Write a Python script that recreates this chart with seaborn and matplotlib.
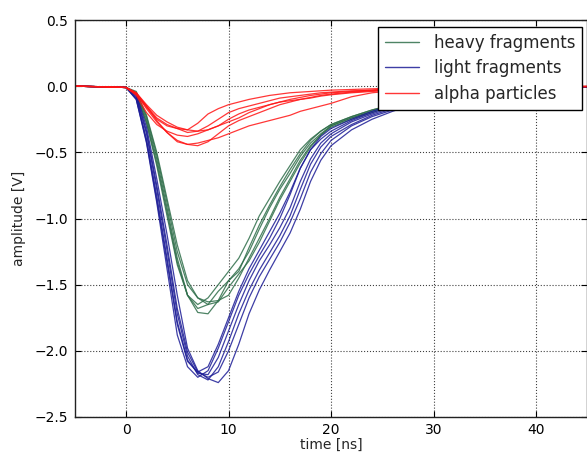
import numpy as np
import pandas as pd
import matplotlib
matplotlib.use("Agg")
import matplotlib.pyplot as plt
from matplotlib.lines import Line2D
import seaborn as sns

# ---- data ----
time_ns = [-5, -2, 0, 1, 2, 3, 4, 5, 6, 7, 8, 9, 10, 11, 12, 13, 14, 15, 16, 17,
           18, 19, 20, 22, 24, 26, 28, 30, 33, 36, 40, 45]

heavy_1 = [0.0, -0.005, -0.01, -0.06, -0.28, -0.60, -0.98, -1.35, -1.58, -1.65, -1.60, -1.50, -1.40, -1.30, -1.15, -0.98, -0.85, -0.72, -0.60, -0.48,
           -0.40, -0.34, -0.29, -0.23, -0.18, -0.14, -0.10, -0.07, -0.045, -0.03, -0.015, -0.005]
heavy_2 = [0.0, -0.005, -0.01, -0.05, -0.25, -0.55, -0.92, -1.30, -1.58, -1.71, -1.72, -1.62, -1.47, -1.38, -1.25, -1.08, -0.92, -0.78, -0.66, -0.53,
           -0.43, -0.36, -0.30, -0.24, -0.19, -0.15, -0.11, -0.08, -0.05, -0.03, -0.015, -0.005]
heavy_3 = [0.0, -0.005, -0.01, -0.05, -0.23, -0.52, -0.88, -1.25, -1.50, -1.60, -1.63, -1.62, -1.58, -1.45, -1.30, -1.15, -1.00, -0.84, -0.70, -0.56,
           -0.45, -0.37, -0.31, -0.25, -0.20, -0.15, -0.11, -0.08, -0.05, -0.03, -0.015, -0.005]
heavy_4 = [0.0, -0.005, -0.01, -0.06, -0.27, -0.58, -0.95, -1.33, -1.58, -1.68, -1.65, -1.55, -1.47, -1.40, -1.22, -1.05, -0.90, -0.76, -0.63, -0.51,
           -0.41, -0.34, -0.29, -0.23, -0.18, -0.14, -0.10, -0.07, -0.045, -0.03, -0.015, -0.005]
heavy_5 = [0.0, -0.005, -0.01, -0.04, -0.22, -0.50, -0.85, -1.20, -1.47, -1.60, -1.65, -1.63, -1.52, -1.42, -1.32, -1.18, -1.02, -0.86, -0.72, -0.58,
           -0.46, -0.37, -0.30, -0.24, -0.19, -0.14, -0.10, -0.07, -0.045, -0.03, -0.015, -0.005]

light_1 = [0.0, -0.005, -0.01, -0.10, -0.43, -0.88, -1.38, -1.88, -2.12, -2.20, -2.15, -1.98, -1.78, -1.58, -1.42, -1.28, -1.15, -1.00, -0.82, -0.62,
           -0.48, -0.40, -0.34, -0.26, -0.20, -0.15, -0.11, -0.08, -0.05, -0.03, -0.015, -0.005]
light_2 = [0.0, -0.005, -0.01, -0.09, -0.40, -0.83, -1.30, -1.78, -2.07, -2.17, -2.18, -2.05, -1.85, -1.65, -1.47, -1.32, -1.20, -1.07, -0.92, -0.72,
           -0.55, -0.43, -0.36, -0.27, -0.21, -0.16, -0.12, -0.08, -0.05, -0.03, -0.015, -0.005]
light_3 = [0.0, -0.005, -0.01, -0.08, -0.36, -0.78, -1.24, -1.72, -2.04, -2.18, -2.22, -2.12, -1.93, -1.72, -1.54, -1.39, -1.26, -1.13, -0.98, -0.78,
           -0.59, -0.46, -0.38, -0.29, -0.22, -0.17, -0.12, -0.09, -0.05, -0.03, -0.015, -0.005]
light_4 = [0.0, -0.005, -0.01, -0.07, -0.34, -0.75, -1.20, -1.68, -2.01, -2.16, -2.20, -2.16, -2.00, -1.80, -1.60, -1.44, -1.31, -1.18, -1.03, -0.85,
           -0.65, -0.51, -0.41, -0.30, -0.23, -0.18, -0.13, -0.09, -0.06, -0.035, -0.02, -0.005]
light_5 = [0.0, -0.005, -0.01, -0.06, -0.31, -0.70, -1.12, -1.58, -1.98, -2.15, -2.21, -2.24, -2.15, -1.95, -1.72, -1.54, -1.39, -1.25, -1.11, -0.93,
           -0.72, -0.56, -0.45, -0.33, -0.25, -0.19, -0.14, -0.10, -0.06, -0.035, -0.02, -0.005]
light_6 = [0.0, -0.005, -0.01, -0.10, -0.42, -0.86, -1.33, -1.80, -2.08, -2.16, -2.12, -1.95, -1.75, -1.55, -1.38, -1.24, -1.10, -0.96, -0.80, -0.62,
           -0.48, -0.38, -0.32, -0.25, -0.19, -0.14, -0.10, -0.07, -0.04, -0.025, -0.01, -0.005]

alpha_1 = [0.0, -0.005, -0.01, -0.06, -0.16, -0.25, -0.30, -0.32, -0.33, -0.28, -0.21, -0.17, -0.14, -0.12, -0.10, -0.085, -0.07, -0.06, -0.05, -0.045,
           -0.04, -0.035, -0.03, -0.025, -0.02, -0.015, -0.01, -0.01, -0.008, -0.006, -0.004, -0.002]
alpha_2 = [0.0, -0.005, -0.01, -0.06, -0.15, -0.24, -0.29, -0.32, -0.35, -0.34, -0.30, -0.25, -0.20, -0.17, -0.15, -0.13, -0.11, -0.09, -0.08, -0.07,
           -0.06, -0.05, -0.045, -0.035, -0.03, -0.02, -0.015, -0.01, -0.008, -0.006, -0.004, -0.002]
alpha_3 = [0.0, -0.005, -0.01, -0.06, -0.17, -0.27, -0.35, -0.42, -0.44, -0.43, -0.41, -0.39, -0.36, -0.33, -0.30, -0.28, -0.26, -0.24, -0.22, -0.19,
           -0.17, -0.15, -0.13, -0.08, -0.05, -0.035, -0.025, -0.02, -0.015, -0.01, -0.006, -0.003]
alpha_4 = [0.0, -0.005, -0.01, -0.05, -0.15, -0.26, -0.35, -0.41, -0.44, -0.45, -0.42, -0.36, -0.30, -0.26, -0.23, -0.20, -0.17, -0.14, -0.12, -0.10,
           -0.09, -0.075, -0.065, -0.05, -0.04, -0.03, -0.02, -0.015, -0.01, -0.008, -0.005, -0.003]
alpha_5 = [0.0, -0.005, -0.01, -0.07, -0.20, -0.29, -0.34, -0.37, -0.38, -0.36, -0.33, -0.30, -0.27, -0.24, -0.20, -0.17, -0.14, -0.12, -0.10, -0.085,
           -0.07, -0.06, -0.05, -0.04, -0.03, -0.02, -0.015, -0.01, -0.008, -0.006, -0.004, -0.002]
alpha_6 = [0.0, -0.005, -0.01, -0.05, -0.14, -0.22, -0.27, -0.31, -0.33, -0.34, -0.33, -0.30, -0.25, -0.21, -0.18, -0.16, -0.14, -0.12, -0.11, -0.10,
           -0.085, -0.07, -0.06, -0.045, -0.035, -0.025, -0.02, -0.015, -0.01, -0.008, -0.005, -0.003]

groups = {
    "heavy fragments": [heavy_1, heavy_2, heavy_3, heavy_4, heavy_5],
    "light fragments": [light_1, light_2, light_3, light_4, light_5, light_6],
    "alpha particles": [alpha_1, alpha_2, alpha_3, alpha_4, alpha_5, alpha_6],
}
colors = {"heavy fragments": "#2f6e4a",
          "light fragments": "#1c1c96",
          "alpha particles": "#ff1414"}

x_ticks = [0, 10, 20, 30, 40]
y_ticks = [-2.5, -2.0, -1.5, -1.0, -0.5, 0.0, 0.5]

# ---- long-form table ----
rows = []
for kind, traces in groups.items():
    for i, tr in enumerate(traces):
        for t, v in zip(time_ns, tr):
            rows.append({"time": t, "amplitude": v, "kind": kind, "trace": f"{kind}_{i}"})
df = pd.DataFrame(rows)

sns.set_style("white")
plt.rcParams["font.family"] = ["DejaVu Sans"]

fig = plt.figure(figsize=(5.87, 4.53), dpi=100)
ax = fig.add_axes([74.75 / 587, 36 / 453, 512.6 / 587, 397 / 453])

sns.lineplot(data=df, x="time", y="amplitude", hue="kind", units="trace",
             estimator=None, palette=colors, linewidth=0.9, alpha=0.85,
             legend=False, ax=ax, sort=False)

ax.set_xlim(-5, 45)
ax.set_ylim(-2.5, 0.5)
ax.set_xticks(x_ticks)
ax.set_yticks(y_ticks)
ax.set_yticklabels([f"{v:.1f}".replace("-", "\u2212") for v in y_ticks])
ax.grid(True, color="black", linestyle=":", linewidth=0.8, alpha=0.75)
ax.tick_params(direction="in", length=4, width=0.8, labelsize=10, colors="black",
               top=True, right=True, bottom=True, left=True, pad=5)
ax.tick_params(axis="x", pad=4)
for s in ax.spines.values():
    s.set_color("#222222")
    s.set_linewidth(1.0)
ax.set_xlabel("time [ns]", fontsize=10, labelpad=1)
ax.set_ylabel("amplitude [V]", fontsize=10, labelpad=6)

handles = [Line2D([0], [0], color=colors[k], lw=1.0, alpha=0.85) for k in groups]
leg = ax.legend(handles, list(groups.keys()), loc="upper right",
                bbox_to_anchor=(0.99, 0.983), borderaxespad=0.0,
                fontsize=12, frameon=True, fancybox=False, framealpha=1.0,
                handlelength=2.0, handletextpad=0.9, borderpad=0.42, labelspacing=0.45)
leg.get_frame().set_edgecolor("black")
leg.get_frame().set_linewidth(1.0)

fig.savefig("out.png", dpi=100)
